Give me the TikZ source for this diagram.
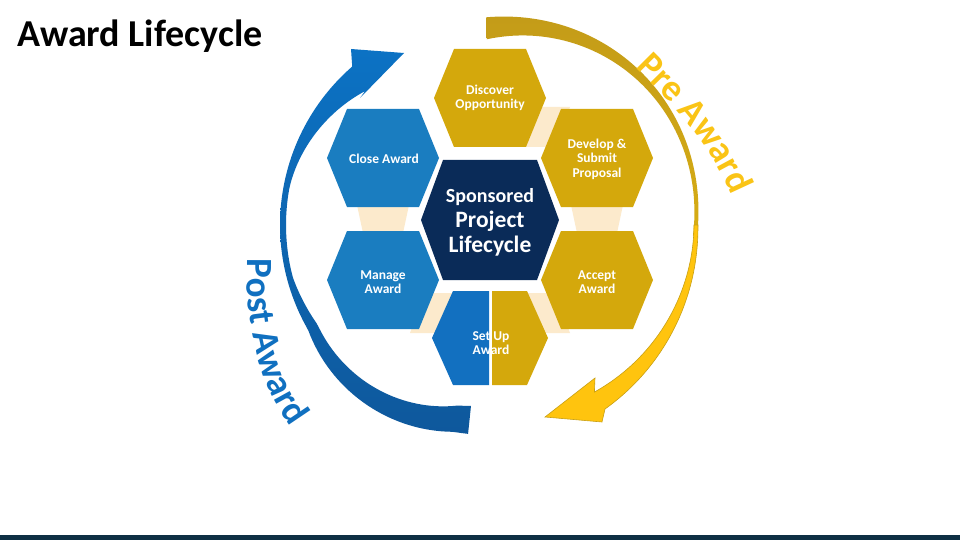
\documentclass[tikz,border=0pt]{standalone}
\usepackage{fontspec}
\setmainfont{Carlito}
\usetikzlibrary{decorations.text}
\definecolor{hexgold}{RGB}{212,168,12}
\definecolor{hexblue}{RGB}{26,125,192}
\definecolor{setblue}{RGB}{18,112,192}
\definecolor{navy}{RGB}{10,43,88}
\definecolor{beige}{RGB}{252,234,204}
\definecolor{arcgoldA}{RGB}{196,156,24}
\definecolor{arcgoldB}{RGB}{214,172,20}
\definecolor{yel}{RGB}{255,196,14}
\definecolor{goldline}{RGB}{200,160,20}
\definecolor{blueA}{RGB}{12,114,196}
\definecolor{blueB}{RGB}{14,88,156}
\definecolor{pretext}{RGB}{250,196,22}
\definecolor{posttext}{RGB}{16,112,192}
\definecolor{barcol}{RGB}{14,47,68}
\newcommand\hexshape[6]{\fill[#6] ({#1-#3},#2) -- ({#1-#5},{#2-#4}) -- ({#1+#5},{#2-#4}) -- ({#1+#3},#2) -- ({#1+#5},{#2+#4}) -- ({#1-#5},{#2+#4}) -- cycle;}
\newcommand\prefnt{\fontsize{37}{37}\selectfont\bfseries}
\newcommand\postfnt{\fontsize{37}{37}\selectfont\bfseries}
\begin{document}
\begin{tikzpicture}[x=1pt,y=-1pt,
  lbl/.style={text=white,font=\fontsize{13.5}{14.5}\selectfont\bfseries,align=center,inner sep=0pt},
  ctr/.style={text=white,font=\fontsize{23.5}{25}\selectfont\bfseries,anchor=base,inner sep=0pt},
  declare function={
    gro(\t)=208+7*sin(2*\t);
    gri(\t)=gro(\t)-4-18*(\t/91)^2;
    yro(\s)=208+9*(\s/58)*sqrt(\s/58);
    yri(\s)=204-7*(\s/58)*sqrt(\s/58);
    bro(\a)=210+8*max(0,1-((\a-235)/25)^2);
    bri(\a)=bro(\a)-6-22*max(0,\a-195)/69-20*(max(0,170-\a)/36)*sqrt(max(0,170-\a)/36);
  }]
\useasboundingbox (0,0) rectangle (960,540);
\fill[white] (0,0) rectangle (960,540);
\fill[barcol] (0,535) rectangle (960,540);

% title
\node[anchor=base west,inner sep=0pt,font=\fontsize{38}{38}\selectfont\bfseries] (title) at (17,47) {Award Lifecycle};

% gold arc (pre award, upper part)
\shade[top color=arcgoldA,bottom color=arcgoldB]
  plot[domain=91:-3,samples=70] ({490+gro(\x)*cos(\x)},{225-gro(\x)*sin(\x)})
  -- plot[domain=-3:91,samples=70] ({490+gri(\x)*cos(\x)},{225-gri(\x)*sin(\x)}) -- cycle;
% yellow arrow
\fill[yel,draw=goldline,line width=0.6pt]
  plot[domain=0:58,samples=50] ({490+yro(\x)*cos(\x)},{225+yro(\x)*sin(\x)})
  -- (602,422) -- (545,417) -- (595,378)
  -- plot[domain=58:0,samples=50] ({490+yri(\x)*cos(\x)},{225+yri(\x)*sin(\x)}) -- cycle;
% blue arrow (post award)
\shade[top color=blueA,bottom color=blueB]
  plot[domain=264:131,samples=90] ({490+bro(\x)*cos(\x)},{225-bro(\x)*sin(\x)})
  -- (351,49) -- (404,53) -- (360,98)
  -- plot[domain=133:264,samples=90] ({490+bri(\x)*cos(\x)},{225-bri(\x)*sin(\x)}) -- cycle;

% arc texts
\path[decorate,decoration={text along path,text={|\prefnt|Pre Award},text align=center,text color=pretext}]
  (630,62) .. controls (662,95) and (708,135) .. (734,202);
\path[decorate,decoration={text along path,text={|\postfnt|Post Award},text align=center,text color=posttext}]
  (248,238) .. controls (243,320) and (256,392) .. (304,442);

% beige connectors
\fill[beige] (357,205) -- (409,205) -- (403,233) -- (363,233) -- cycle;
\fill[beige] (571,205) -- (623,205) -- (617,233) -- (577,233) -- cycle;
\fill[beige] (425,293) -- (460,293) -- (440,333) -- (410,333) -- cycle;
\fill[beige] (555,293) -- (520,293) -- (540,333) -- (570,333) -- cycle;
\fill[beige] (555,147) -- (520,147) -- (540,107) -- (570,107) -- cycle;

% hexagons
\hexshape{490}{98}{56}{49}{36}{hexgold}
\hexshape{597}{158}{56}{49}{36}{hexgold}
\hexshape{597}{280}{56}{49}{36}{hexgold}
\hexshape{383}{158}{56}{49}{36}{hexblue}
\hexshape{383}{280}{56}{49}{36}{hexblue}
\hexshape{490}{220}{69}{60}{47}{navy}
\fill[setblue] (432,338) -- (453,291) -- (489,291) -- (489,385) -- (453,385) -- cycle;
\fill[hexgold] (492,291) -- (527,291) -- (548,338) -- (527,385) -- (492,385) -- cycle;

% labels
\node[lbl] (discover) at (490,98) {Discover\\Opportunity};
\node[lbl] (develop) at (597,159) {Develop \&\\Submit\\Proposal};
\node[lbl] (accept) at (597,282) {Accept\\Award};
\node[lbl] (setup) at (491,343) {Set Up\\Award};
\node[lbl] (manage) at (383,282) {Manage\\Award};
\node[lbl] (close) at (384,159) {Close Award};
\node[ctr,font=\fontsize{20}{22}\selectfont\bfseries] (sponsored) at (490,202) {Sponsored};
\node[ctr] (project) at (490,227) {Project};
\node[ctr] (lifecycle) at (490,252) {Lifecycle};
\end{tikzpicture}
\end{document}
